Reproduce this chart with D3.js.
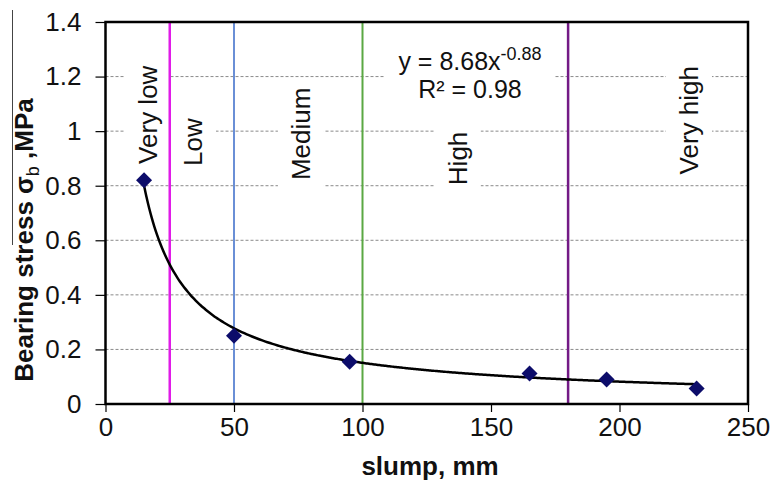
<!DOCTYPE html>
<html>
<head>
<meta charset="utf-8">
<script src="https://cdn.jsdelivr.net/npm/d3@7"></script>
<style>
  body { margin: 0; background: #fff; }
  text { font-family: "Liberation Sans", Arial, sans-serif; fill: #111; }
</style>
</head>
<body>
<svg id="chart" width="772" height="483"></svg>
<script>
// measured points (slump mm, bearing stress MPa)
const slump = [15, 50, 95, 165, 195, 230];
const stress = [0.82, 0.25, 0.155, 0.112, 0.09, 0.057];

// power trendline as printed on the chart: y = 8.68 x^-0.88
const fitA = 8.68, fitB = -0.88;
const fitText = ["y = 8.68x", "-0.88", "R\u00b2 = 0.98"];

// class boundaries and names
const bounds = [25, 50, 100, 180];
const boundColors = ["#e01be8", "#6a8fd6", "#5aa843", "#731a86"];
const classNames = ["Very low", "Low", "Medium", "High", "Very high"];
const classX = [16.5, 34, 76, 137, 227];
const classY = [1.06, 0.96, 0.99, 0.90, 1.04];

const xTicks = [0, 50, 100, 150, 200, 250];
const yTicks = [0, 0.2, 0.4, 0.6, 0.8, 1, 1.2, 1.4];
const gridVals = [0.2, 0.4, 0.6, 0.8, 1, 1.2];

let svg = d3.select("#chart");

let x = d3.scaleLinear().domain([0, 250]).range([105.5, 748]);
let y = d3.scaleLinear().domain([0, 1.4]).range([404, 22]);

// stray line at top left of the original scan
svg.append("line")
    .attr("x1", 12.5).attr("x2", 12.5)
    .attr("y1", 10).attr("y2", 245)
    .style("stroke", "#444").style("stroke-width", 1);

// gridlines
svg.append("g").selectAll("line")
    .data(gridVals)
    .join("line")
    .attr("x1", x(0)).attr("x2", x(250))
    .attr("y1", d => y(d)).attr("y2", d => y(d))
    .style("stroke", "#8a8a8a")
    .style("stroke-width", 1)
    .style("stroke-dasharray", "3,2");

let boxes = svg.append("g");
let lines = svg.append("g");
let labels = svg.append("g");

// class labels, rotated, on white boxes
classNames.forEach(function (name, i) {
    let t = labels.append("text")
        .attr("transform", "translate(" + x(classX[i]) + "," + y(classY[i]) + ") rotate(-90)")
        .attr("text-anchor", "middle")
        .attr("dy", "0.35em")
        .style("font-size", "26px")
        .text(name);
    let b = t.node().getBoundingClientRect();
    boxes.append("rect")
        .attr("x", b.left - 8).attr("y", b.top - 7)
        .attr("width", b.width + 16).attr("height", b.height + 14)
        .style("fill", "#fff");
});

// equation
let eq = labels.append("text")
    .attr("x", 470).attr("y", 70)
    .attr("text-anchor", "middle")
    .style("font-size", "25px");
eq.append("tspan").text(fitText[0]);
eq.append("tspan").attr("dy", -10).style("font-size", "18px").text(fitText[1]);
labels.append("text")
    .attr("x", 470).attr("y", 98)
    .attr("text-anchor", "middle")
    .style("font-size", "25px")
    .text(fitText[2]);
boxes.append("rect")
    .attr("x", 385).attr("y", 44)
    .attr("width", 170).attr("height", 64)
    .style("fill", "#fff");

// class boundary lines
lines.selectAll("line")
    .data(bounds)
    .join("line")
    .attr("x1", d => x(d)).attr("x2", d => x(d))
    .attr("y1", y(1.4)).attr("y2", y(0))
    .style("stroke", (d, i) => boundColors[i])
    .style("stroke-width", (d, i) => (i == 0 || i == 3) ? 2.5 : 2);

// trendline
let fitXs = d3.range(15, 230.5, 1);
let line = d3.line()
    .x(d => x(d))
    .y(d => y(fitA * Math.pow(d, fitB)))
    .curve(d3.curveMonotoneX);
svg.append("path")
    .datum(fitXs)
    .attr("d", line)
    .style("fill", "none")
    .style("stroke", "#000")
    .style("stroke-width", 2.5);

// markers
svg.append("g").selectAll("path")
    .data(slump)
    .join("path")
    .attr("transform", (d, i) => "translate(" + x(d) + "," + y(stress[i]) + ")")
    .attr("d", "M0,-8L8,0L0,8L-8,0Z")
    .style("fill", "#0c0c6a");

// frame
svg.append("rect")
    .attr("x", x(0)).attr("y", y(1.4))
    .attr("width", x(250) - x(0)).attr("height", y(0) - y(1.4))
    .style("fill", "none")
    .style("stroke", "#000")
    .style("stroke-width", 2.5);

// axes
let xAxis = svg.append("g")
    .attr("transform", "translate(0," + y(0) + ")")
    .call(d3.axisBottom(x).tickValues(xTicks).tickSize(8).tickSizeOuter(0).tickPadding(6).tickFormat(d3.format("d")));
xAxis.select(".domain").remove();
xAxis.selectAll("text").style("font-size", "26px").style("fill", "#111");
xAxis.selectAll("line").style("stroke", "#000").style("stroke-width", 1.2);

let yAxis = svg.append("g")
    .attr("transform", "translate(" + x(0) + ",0)")
    .call(d3.axisLeft(y).tickValues(yTicks).tickSize(10).tickSizeOuter(0).tickPadding(14).tickFormat(d => d == 0 || d == 1 ? d : d3.format(".1f")(d)));
yAxis.select(".domain").remove();
yAxis.selectAll("text").style("font-size", "26px").style("fill", "#111");
yAxis.selectAll("line").style("stroke", "#000").style("stroke-width", 1.2);

// axis titles
svg.append("text")
    .attr("x", 430).attr("y", 475)
    .attr("text-anchor", "middle")
    .style("font-size", "26px")
    .style("font-weight", "bold")
    .text("slump, mm");

let yt = svg.append("text")
    .attr("transform", "translate(33,240) rotate(-90)")
    .attr("text-anchor", "middle")
    .style("font-size", "26px")
    .style("font-weight", "bold");
yt.append("tspan").text("Bearing stress \u03c3");
yt.append("tspan").attr("dy", 6).style("font-size", "18px").style("font-weight", "normal").text("b");
yt.append("tspan").attr("dy", -6).text(" ,MPa");
</script>
</body>
</html>
